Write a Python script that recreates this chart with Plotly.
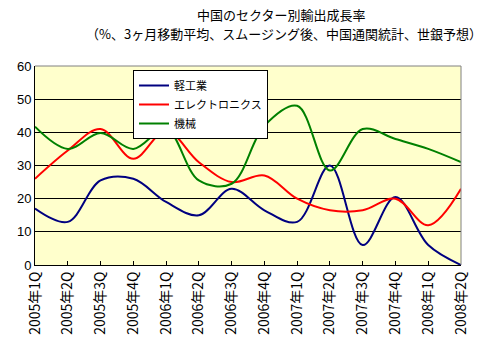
import plotly.graph_objects as go

categories = ["2005年1Q", "2005年2Q", "2005年3Q", "2005年4Q", "2006年1Q", "2006年2Q", "2006年3Q",
              "2006年4Q", "2007年1Q", "2007年2Q", "2007年3Q", "2007年4Q", "2008年1Q", "2008年2Q"]
light_industry = [17, 13, 25.5, 26, 19, 15, 23, 16.5, 13, 30, 6, 20.5, 6, 0]
electronics = [26, 34.5, 41, 32, 40.5, 31, 25, 27, 20, 16.5, 16.5, 20, 12, 23]
machinery = [41.7, 35, 39.8, 35, 41, 25.5, 24.5, 42, 48, 28.5, 41, 38, 35, 31]

series_names = ["軽工業", "エレクトロニクス", "機械"]
series_values = [light_industry, electronics, machinery]
colors = ["#000080", "#FF0000", "#008000"]
title_text = "中国のセクター別輸出成長率"
subtitle_text = "（%、3ヶ月移動平均、スムージング後、中国通関統計、世銀予想）"

font = "Noto Sans CJK JP"
L, R, T, B, W, H = 35, 26, 66, 86, 487, 351
pw, ph = W - L - R, H - T - B

fig = go.Figure()
for name, vals, c in zip(series_names, series_values, colors):
    fig.add_trace(go.Scatter(x=list(range(len(categories))), y=vals, name=name, mode="lines",
                             line=dict(color=c, width=2, shape="spline", smoothing=1.0)))

fig.update_layout(
    width=W, height=H,
    margin=dict(l=L, r=R, t=T, b=B),
    paper_bgcolor="white", plot_bgcolor="#FFFFCC",
    font=dict(family=font, size=12, color="black"),
    showlegend=True,
    legend=dict(x=(133 - L) / pw, y=(H - B - 70) / ph, xanchor="left", yanchor="top", bgcolor="white",
                bordercolor="black", borderwidth=1, font=dict(size=11, family=font),
                tracegroupgap=0, itemwidth=30),
    xaxis=dict(range=[0, 13], tickmode="array", tickvals=list(range(len(categories))),
               ticktext=categories, tickangle=-90, ticks="inside", ticklen=4, tickcolor="black",
               showline=True, linecolor="black", linewidth=1, showgrid=False, zeroline=False,
               mirror=False, tickfont=dict(size=14, family=font)),
    yaxis=dict(range=[0, 60], tickvals=[0, 10, 20, 30, 40, 50, 60], showgrid=True,
               gridcolor="black", gridwidth=1, showline=True, linecolor="black", linewidth=1,
               zeroline=False, ticks="", tickfont=dict(size=13, family="Liberation Sans")),
    annotations=[
        dict(text=title_text, xref="paper", yref="paper",
             x=(281 - L) / pw, y=(H - B - 15) / ph, xanchor="center", yanchor="middle",
             showarrow=False, font=dict(size=13, family=font)),
        dict(text=subtitle_text, xref="paper", yref="paper",
             x=(284 - L) / pw, y=(H - B - 34) / ph, xanchor="center", yanchor="middle",
             showarrow=False, font=dict(size=13, family=font)),
    ],
)

# gray top/right border of plot area
fig.add_shape(type="line", xref="paper", yref="paper", x0=0, x1=1, y0=1, y1=1,
              line=dict(color="#808080", width=1))
fig.add_shape(type="line", xref="paper", yref="paper", x0=1, x1=1, y0=0, y1=1,
              line=dict(color="#808080", width=1))

fig.write_html("out.html")
